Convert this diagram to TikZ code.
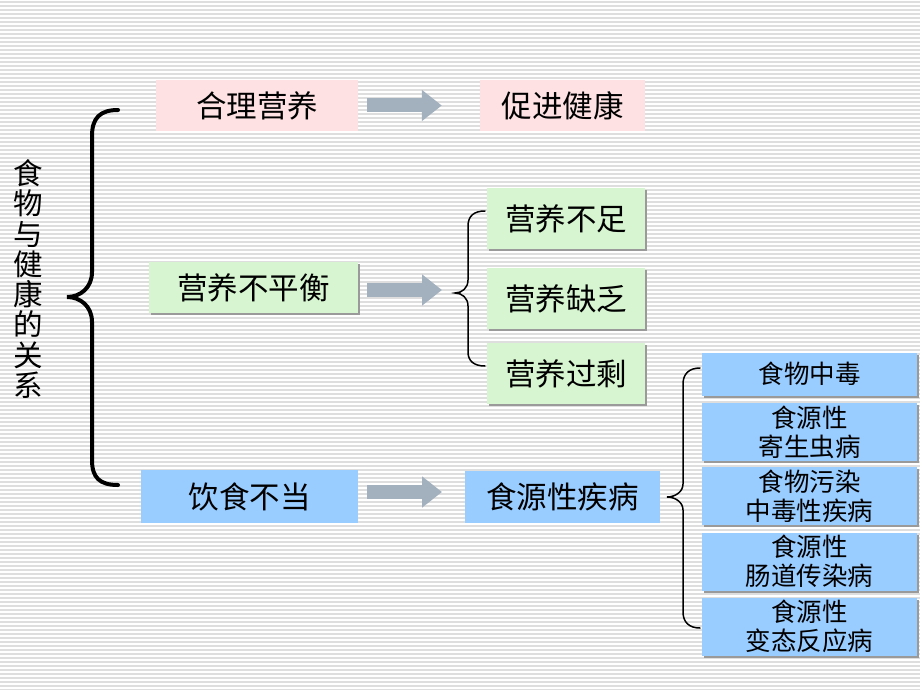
\documentclass[tikz,border=0pt]{standalone}
\usepackage{fontspec}
\setmainfont{Noto Sans CJK SC}
\usetikzlibrary{arrows.meta,shadows}
\definecolor{bgline}{HTML}{DEDEDE}
\definecolor{pinkfill}{HTML}{FDE1E3}
\definecolor{greenfill}{HTML}{D6F5D0}
\definecolor{bluefill}{HTML}{99CCFF}
\definecolor{arrowcol}{HTML}{A3B1BE}
\definecolor{shadowcol}{HTML}{9A9A9A}
\begin{document}
\begin{tikzpicture}[x=1pt,y=-1pt,
  bgl/.style={draw=bgline,line width=1.4pt},
  basebox/.style={inner sep=0pt,font=\fontsize{30.5}{32}\selectfont},
  pinkbox/.style={basebox,fill=pinkfill},
  greenbox/.style={basebox,fill=greenfill,drop shadow={shadow xshift=2pt,shadow yshift=-2pt,fill=shadowcol,opacity=1}},
  bluebox/.style={basebox,fill=bluefill},
  rbox/.style={inner sep=0pt,fill=bluefill,align=center,minimum width=215pt,
     font=\fontsize{25.5}{29}\selectfont,
     drop shadow={shadow xshift=2pt,shadow yshift=-2pt,fill=shadowcol,opacity=1}},
  bigarrow/.style={draw=arrowcol,line width=14pt,-{Triangle[length=20pt,width=30pt]}},
  bracebig/.style={draw=black,line width=4pt,line cap=round},
  bracesmall/.style={draw=black,line width=1.5pt,line cap=round}]
\useasboundingbox (0,0) rectangle (920,690);
\fill[white] (0,0) rectangle (920,690);
\foreach \y in {2,6,...,690} \draw[bgl] (0,\y) -- (920,\y);

% vertical title
\node[align=center,inner sep=0pt,font=\fontsize{29.5}{30.3}\selectfont] (title) at (28,279)
  {食\\物\\与\\健\\康\\的\\关\\系};

% big brace
\draw[bracebig] (118,110) .. controls (100,110) and (92,118) .. (92,136) -- (92,272)
  .. controls (92,288) and (80,297) .. (67,297)
  .. controls (80,297) and (92,306) .. (92,322) -- (92,460)
  .. controls (92,478) and (100,485) .. (118,485);

% row 1
\node[pinkbox,minimum width=202pt,minimum height=51pt] (a1) at (257,105.5) {合理营养};
\node[pinkbox,minimum width=165pt,minimum height=51pt] (b1) at (562.5,105.5) {促进健康};
\draw[bigarrow] ([xshift=9pt]a1.east) -- ([xshift=-38pt]b1.west);

% row 2
\node[greenbox,minimum width=209pt,minimum height=51pt] (a2) at (253.5,287.5) {营养不平衡};
\node[greenbox,minimum width=158pt,minimum height=61pt] (g1) at (566,218.5) {营养不足};
\node[greenbox,minimum width=158pt,minimum height=61pt] (g2) at (566,298.5) {营养缺乏};
\node[greenbox,minimum width=158pt,minimum height=61pt] (g3) at (566,373.5) {营养过剩};
\coordinate (t2) at (442,290);
\draw[bigarrow] (a2.east |- t2) ++(9,0) -- (t2);

% small brace
\draw[bracesmall] (485,211) .. controls (474,211) and (468,216) .. (468,226) -- (468,280)
  .. controls (468,288) and (462,293) .. (455,293)
  .. controls (462,293) and (468,298) .. (468,306) -- (468,352)
  .. controls (468,361) and (474,366) .. (485,366);

% row 3
\node[bluebox,minimum width=217pt,minimum height=53pt] (a3) at (249.5,496.5) {饮食不当};
\node[bluebox,minimum width=195pt,minimum height=52pt] (b3) at (562.5,497) {食源性疾病};
\coordinate (t3) at (442,492);
\draw[bigarrow] (a3.east |- t3) ++(9,0) -- (t3);

% right brace
\draw[bracesmall] (700,368) .. controls (689,368) and (683,374) .. (683,384) -- (683,484)
  .. controls (683,492) and (675,497) .. (667,497)
  .. controls (675,497) and (683,502) .. (683,510) -- (683,612)
  .. controls (683,622) and (689,628) .. (700,628);

% right boxes
\node[rbox,minimum height=43pt] (r1) at (809.5,374) {食物中毒};
\node[rbox,minimum height=58pt] (r2) at (809.5,432) {食源性\\寄生虫病};
\node[rbox,minimum height=58pt] (r3) at (809.5,496) {食物污染\\中毒性疾病};
\node[rbox,minimum height=58pt] (r4) at (809.5,561.5) {食源性\\肠道传染病};
\node[rbox,minimum height=58pt] (r5) at (809.5,626.5) {食源性\\变态反应病};
\end{tikzpicture}
\end{document}
